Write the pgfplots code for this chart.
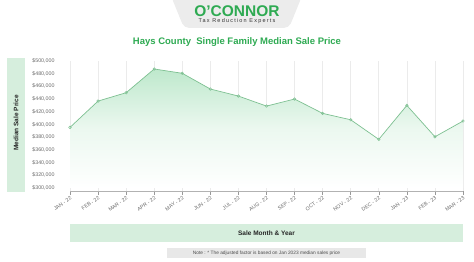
\documentclass[border=0pt]{standalone}
\usepackage{fontspec}
\setmainfont{Liberation Sans}
\usepackage{pgfplots}
\pgfplotsset{compat=1.18}
\definecolor{ogreen}{RGB}{46,170,82}
\definecolor{lgreen}{RGB}{214,238,221}
\definecolor{linegreen}{RGB}{125,192,145}
\definecolor{fillgreen}{RGB}{190,232,204}
\definecolor{tgray}{RGB}{105,105,105}
\definecolor{logogray}{RGB}{236,236,236}
\begin{document}
\begin{tikzpicture}[x=1pt,y=1pt]
\useasboundingbox (0,0) rectangle (474,262);
% logo tab
\fill[logogray, rounded corners=5pt] (171,266) -- (184,234) -- (289,234) -- (302,266) -- cycle;
\node[font=\bfseries\fontsize{15.5}{16}\selectfont, text=ogreen, inner sep=0pt] at (237,251) {O'CONNOR};
\node[font=\fontsize{5.5}{6}\selectfont\addfontfeatures{LetterSpace=22}, text=black!80, inner sep=0pt] at (237,241) {Tax Reduction Experts};
% title
\node[font=\bfseries\fontsize{9.5}{10}\selectfont, text=ogreen, inner sep=0pt] at (237,219.5) {Hays County\ \ Single Family Median Sale Price};
% y label box
\fill[lgreen] (7,70) rectangle (25,204);
\node[rotate=90, font=\bfseries\fontsize{6.5}{7}\selectfont, text=black!85, inner sep=0pt] at (16,139) {Median Sale Price};
% x label box
\fill[lgreen] (70,20) rectangle (463,38);
\node[font=\bfseries\fontsize{6.5}{7}\selectfont, text=black!85, inner sep=0pt] at (266.5,29) {Sale Month \& Year};
% note box
\fill[gray!18] (167,4) rectangle (366,14);
\node[font=\fontsize{4.8}{5}\selectfont, text=black!70, inner sep=0pt] at (266.5,9) {Note : * The adjusted factor is based on Jan 2023 median sales price};
\begin{axis}[
  at={(70pt,71pt)}, anchor=south west,
  scale only axis, width=393pt, height=130pt,
  xmin=0, xmax=14, ymin=295000, ymax=500000,
  scaled y ticks=false,
  axis lines*=left,
  y axis line style={draw=none},
  x axis line style={draw=black!30, line width=0.9pt},
  xtick={0,...,14},
  xticklabels={JAN - 22,FEB - 22,MAR - 22,APR - 22,MAY - 22,JUN - 22,JUL - 22,AUG - 22,SEP - 22,OCT - 22,NOV - 22,DEC - 22,JAN - 23,FEB - 23,MAR - 23},
  x tick label style={rotate=35, anchor=north east, font=\fontsize{5.2}{6}\selectfont, text=tgray, inner sep=0.5pt},
  xtick style={draw=black!40, line width=0.5pt},
  tick align=outside,
  major tick length=4pt,
  ytick={300000,320000,340000,360000,380000,400000,420000,440000,460000,480000,500000},
  yticklabels={\$300{,}000,\$320{,}000,\$340{,}000,\$360{,}000,\$380{,}000,\$400{,}000,\$420{,}000,\$440{,}000,\$460{,}000,\$480{,}000,\$500{,}000},
  y tick label style={font=\fontsize{5.3}{6}\selectfont, text=tgray, anchor=east},
  ytick style={draw=none},
  yticklabel shift=8pt,
  xmajorgrids, grid style={draw=black!8, line width=0.6pt},
  clip=false,
]
\addplot[draw=none, top color=fillgreen, bottom color=white, middle color=fillgreen!30] coordinates {
(0,395300) (1,436800) (2,450000) (3,487400) (4,480600) (5,455800) (6,444700) (7,428900) (8,440000) (9,417400) (10,407300) (11,376400) (12,430000) (13,380500) (14,405300) (14,300000) (0,300000)} -- cycle;
\addplot[color=linegreen, line width=0.7pt, mark=o, mark size=1.3pt, mark options={fill=white, draw=linegreen, line width=0.5pt}] coordinates {
(0,395300) (1,436800) (2,450000) (3,487400) (4,480600) (5,455800) (6,444700) (7,428900) (8,440000) (9,417400) (10,407300) (11,376400) (12,430000) (13,380500) (14,405300)};
\end{axis}
\end{tikzpicture}
\end{document}
